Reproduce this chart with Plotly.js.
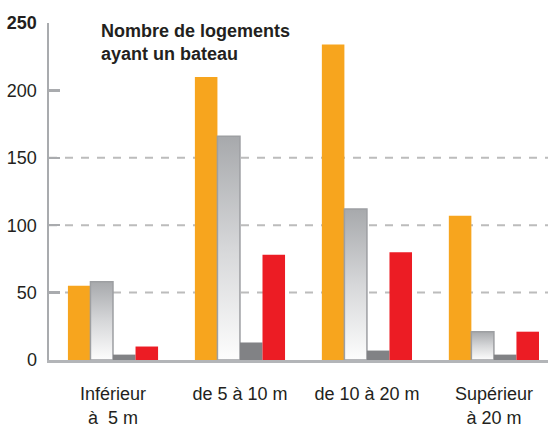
<!DOCTYPE html>
<html>
<head>
<meta charset="utf-8">
<script src="https://cdn.plot.ly/plotly-3.0.1.min.js"></script>
<style>
  html, body { margin: 0; padding: 0; background: #fff; }
  #chart { width: 548px; height: 427px; }
</style>
</head>
<body>
<div id="chart"></div>
<script>
  /* ── Data ─────────────────────────────────────────────── */
  const categories = ['Inférieur<br>à\u00a0 5 m', 'de 5 à 10 m', 'de 10 à 20 m', 'Supérieur<br>à 20 m'];
  const seriesOrange = [55, 210, 234, 107];
  const seriesGrad   = [58, 166, 112, 21];
  const seriesDark   = [4, 13, 7, 4];
  const seriesRed    = [10, 78, 80, 21];

  const yTickVals = [0, 50, 100, 150, 200, 250];
  const yTickText = ['0', '50', '100', '150', '200', '<b>250</b>'];
  const gridVals  = [50, 100, 150];

  const titleText = '<b>Nombre de logements<br>ayant un bateau</b>';

  /* ── Style ────────────────────────────────────────────── */
  const FONT = '"Liberation Sans", Arial, sans-serif';
  const AXIS_GRAY = '#a9abae';

  const xIdx = categories.map((_, i) => i);

  const bar = (y, color, line) => ({
    x: xIdx, y, type: 'bar',
    marker: { color, line: line || { width: 0 } },
    hoverinfo: 'skip',
  });

  const traces = [
    bar(seriesOrange, '#f7a51e'),
    bar(seriesGrad, '#d4d5d7', { color: '#9d9fa2', width: 1.5 }),
    bar(seriesDark, '#818285'),
    bar(seriesRed, '#ec1c24'),
  ];

  const shapes = gridVals.map(v => ({
    type: 'line', layer: 'below',
    xref: 'paper', x0: 0, x1: 1,
    yref: 'y', y0: v, y1: v,
    line: { color: '#bcbcbc', width: 2, dash: '8px,8px' },
  }));

  const layout = {
    width: 548, height: 427,
    paper_bgcolor: '#fff', plot_bgcolor: '#fff',
    margin: { t: 23, b: 67, l: 49, r: 0 },
    font: { family: FONT, color: '#231f20', size: 18 },
    showlegend: false,
    barmode: 'group',
    bargap: 0.29, bargroupgap: 0,
    xaxis: {
      range: [-0.504, 3.426],
      tickvals: xIdx, ticktext: categories,
      showgrid: false, zeroline: false,
      showline: true, linecolor: '#b3b5b8', linewidth: 2.5,
      ticks: '', ticklabelstandoff: 16,
      tickfont: { family: FONT, size: 18, color: '#231f20' },
    },
    yaxis: {
      range: [0, 250],
      tickvals: yTickVals, ticktext: yTickText,
      showgrid: false, zeroline: false,
      showline: true, linecolor: AXIS_GRAY, linewidth: 2.5,
      ticks: 'inside', ticklen: 11, tickwidth: 2.5, tickcolor: AXIS_GRAY,
      ticklabelstandoff: 6,
      tickfont: { family: FONT, size: 18, color: '#231f20' },
    },
    shapes,
    annotations: [{
      text: titleText,
      xref: 'paper', yref: 'paper',
      x: 0.1, y: 1.012, xanchor: 'left', yanchor: 'top',
      align: 'left', showarrow: false,
      font: { family: FONT, size: 18, color: '#231f20' },
    }],
  };

  Plotly.newPlot('chart', traces, layout, { displayModeBar: false, staticPlot: true }).then(gd => {
    // vertical grey-to-white gradient on the second series
    const svg = gd.querySelector('.main-svg');
    const NS = 'http://www.w3.org/2000/svg';
    let defs = svg.querySelector('defs');
    if (!defs) { defs = document.createElementNS(NS, 'defs'); svg.insertBefore(defs, svg.firstChild); }
    const grad = document.createElementNS(NS, 'linearGradient');
    grad.setAttribute('id', 'gradGray');
    grad.setAttribute('x1', '0'); grad.setAttribute('y1', '0');
    grad.setAttribute('x2', '0'); grad.setAttribute('y2', '1');
    [['0', '#a7a9ac'], ['0.5', '#d6d7d9'], ['1', '#fdfdfd']].forEach(([o, c]) => {
      const s = document.createElementNS(NS, 'stop');
      s.setAttribute('offset', o); s.setAttribute('stop-color', c);
      grad.appendChild(s);
    });
    defs.appendChild(grad);
    const barTraces = gd.querySelectorAll('.barlayer .trace.bars');
    if (barTraces[1]) {
      barTraces[1].querySelectorAll('path').forEach(p => { p.style.fill = 'url(#gradGray)'; });
    }
  });
</script>
</body>
</html>
